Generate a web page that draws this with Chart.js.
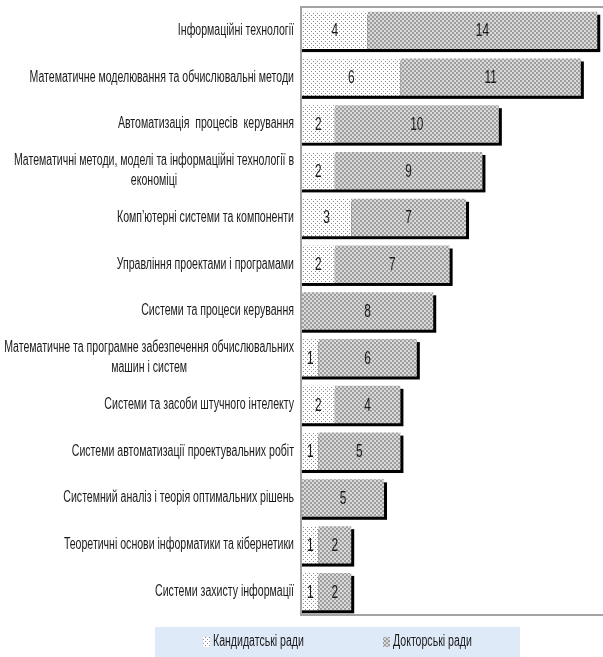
<!DOCTYPE html>
<html lang="uk">
<head>
<meta charset="utf-8">
<title>Спеціалізовані вчені ради</title>
<script src="https://cdn.jsdelivr.net/npm/chart.js@4.4.1/dist/chart.umd.min.js"></script>
<style>
    html, body { margin: 0; padding: 0; background: #fff; }
    canvas { display: block; }
</style>
</head>
<body>
<canvas id="councilsChart" width="603" height="657"></canvas>
<script>
// Спеціальності та кількість рад за кожною з них
const categories = [
    ['Інформаційні технології'],
    ['Математичне моделювання та обчислювальні методи'],
    ['Автоматизація  процесів  керування'],
    ['Математичні методи, моделі та інформаційні технології в', 'економіці'],
    ['Комп\u2019ютерні системи та компоненти'],
    ['Управління проектами і програмами'],
    ['Системи та процеси керування'],
    ['Математичне та програмне забезпечення обчислювальних', 'машин і систем'],
    ['Системи та засоби штучного інтелекту'],
    ['Системи автоматизації проектувальних робіт'],
    ['Системний аналіз і теорія оптимальних рішень'],
    ['Теоретичні основи інформатики та кібернетики'],
    ['Системи захисту інформації']
];
const candidateCouncils = [4, 6, 2, 2, 3, 2, 0, 1, 2, 1, 0, 1, 1];
const doctoralCouncils = [14, 11, 10, 9, 7, 7, 8, 6, 4, 5, 5, 2, 2];
const seriesNames = ['Кандидатські ради', 'Докторські ради'];

(function() {
    'use strict';

    const FONT = '"Liberation Sans", Arial, sans-serif';
    const SQUASH = 0.66;         // narrow, tall lettering
    const TEXT_COLOR = '#1a1a1a';
    const FRAME_COLOR = '#a3a3a3';

    // Small repeating tiles used as bar fills
    function makePattern(size, paint) {
        const tile = document.createElement('canvas');
        tile.width = size;
        tile.height = size;
        paint(tile.getContext('2d'));
        return document.getElementById('councilsChart').getContext('2d').createPattern(tile, 'repeat');
    }

    const dottedFill = makePattern(4, function(c) {
        c.fillStyle = '#ffffff';
        c.fillRect(0, 0, 4, 4);
        c.fillStyle = '#8c8c8c';
        c.fillRect(1, 1, 1, 1);
        c.fillRect(3, 3, 1, 1);
    });

    const checkerFill = makePattern(4, function(c) {
        c.fillStyle = '#dadada';
        c.fillRect(0, 0, 4, 4);
        c.fillStyle = '#9e9e9e';
        c.fillRect(0, 0, 2, 2);
        c.fillRect(2, 2, 2, 2);
    });

    function squashedText(ctx, text, x, y, size, align) {
        ctx.save();
        ctx.font = size + 'px ' + FONT;
        ctx.textAlign = align;
        ctx.textBaseline = 'middle';
        ctx.fillStyle = TEXT_COLOR;
        ctx.translate(x, y);
        ctx.scale(SQUASH, 1);
        ctx.fillText(text, 0, 0);
        ctx.restore();
    }

    // Black drop shadow behind each whole stacked bar
    const barShadow = {
        id: 'barShadow',
        beforeDatasetsDraw(chart) {
            const ctx = chart.ctx;
            const x = chart.scales.x;
            const y = chart.scales.y;
            const meta = chart.getDatasetMeta(1);
            ctx.save();
            ctx.fillStyle = '#000';
            categories.forEach(function(_, i) {
                const total = candidateCouncils[i] + doctoralCouncils[i];
                const h = meta.data[i].height;
                const top = y.getPixelForValue(i) - h / 2;
                const left = x.getPixelForValue(0);
                ctx.fillRect(left, top + 3, x.getPixelForValue(total) - left + 3, h);
            });
            ctx.restore();
        }
    };

    // Frame, category names, values on segments and the legend strip
    const annotations = {
        id: 'annotations',
        afterDatasetsDraw(chart) {
            const ctx = chart.ctx;
            const area = chart.chartArea;
            const y = chart.scales.y;
            const labelSize = 16;

            ctx.save();
            ctx.strokeStyle = FRAME_COLOR;
            ctx.lineWidth = 2;
            ctx.beginPath();
            ctx.moveTo(chart.width, area.top);
            ctx.lineTo(area.left - 1, area.top);
            ctx.lineTo(area.left - 1, area.bottom);
            ctx.lineTo(chart.width, area.bottom);
            ctx.stroke();
            ctx.restore();

            // category names, extra lines centred under the first
            categories.forEach(function(lines, i) {
                const cy = y.getPixelForValue(i);
                const lineH = 20;
                const firstY = cy - (lines.length - 1) * lineH / 2;
                ctx.save();
                ctx.font = labelSize + 'px ' + FONT;
                const firstW = ctx.measureText(lines[0]).width * SQUASH;
                ctx.restore();
                const right = area.left - 8;
                lines.forEach(function(line, k) {
                    if (k === 0) {
                        squashedText(ctx, line, right, firstY, labelSize, 'right');
                    } else {
                        squashedText(ctx, line, right - firstW / 2, firstY + k * lineH, labelSize, 'center');
                    }
                });
            });

            // values in the middle of every non-empty segment
            chart.data.datasets.forEach(function(ds, d) {
                chart.getDatasetMeta(d).data.forEach(function(bar, i) {
                    const v = ds.data[i];
                    if (!v) return;
                    const mid = (bar.x + bar.base) / 2;
                    squashedText(ctx, String(v), mid, bar.y + 1, 18, 'center');
                });
            });
        },
        afterDraw(chart) {
            const ctx = chart.ctx;
            ctx.save();
            ctx.fillStyle = '#dfeaf9';
            ctx.fillRect(155, 627, 365, 30);
            const fills = [dottedFill, checkerFill];
            const swatchX = [203, 383];
            seriesNames.forEach(function(name, k) {
                ctx.fillStyle = fills[k];
                ctx.fillRect(swatchX[k], 637, 7, 10);
                squashedText(ctx, name, swatchX[k] + 10, 642, 16, 'left');
            });
            ctx.restore();
        }
    };

    new Chart(document.getElementById('councilsChart'), {
        type: 'bar',
        data: {
            labels: categories,
            datasets: [
                {
                    label: seriesNames[0],
                    data: candidateCouncils,
                    backgroundColor: dottedFill,
                    borderWidth: 0
                },
                {
                    label: seriesNames[1],
                    data: doctoralCouncils,
                    backgroundColor: checkerFill,
                    borderWidth: 0
                }
            ]
        },
        options: {
            indexAxis: 'y',
            responsive: false,
            animation: false,
            layout: {
                padding: { left: 302, top: 7, right: 0, bottom: 42 }
            },
            datasets: {
                bar: {
                    categoryPercentage: 1,
                    barPercentage: 0.8
                }
            },
            scales: {
                x: {
                    display: false,
                    stacked: true,
                    min: 0,
                    max: 18.35
                },
                y: {
                    display: false,
                    stacked: true
                }
            },
            plugins: {
                legend: { display: false },
                tooltip: { enabled: false }
            }
        },
        plugins: [barShadow, annotations]
    });
})();
</script>
</body>
</html>
